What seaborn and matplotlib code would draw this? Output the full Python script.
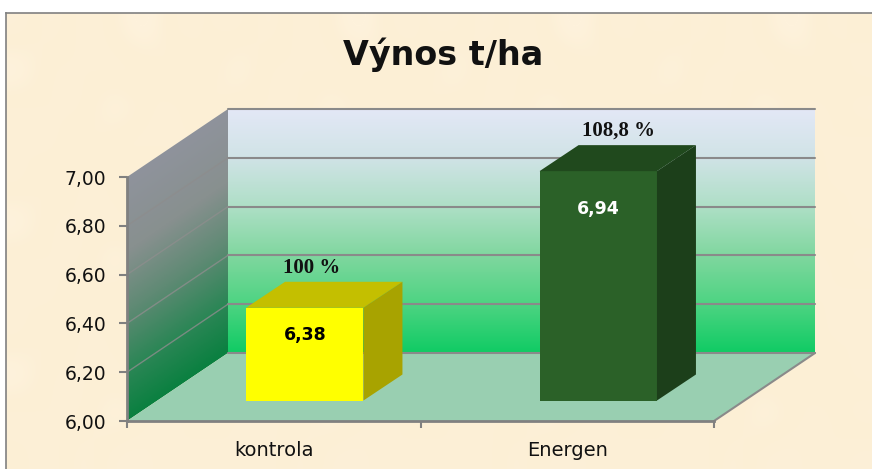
import numpy as np
import pandas as pd
import matplotlib
matplotlib.use("Agg")
import matplotlib.pyplot as plt
from matplotlib.colors import LinearSegmentedColormap
from matplotlib.patches import Polygon
import seaborn as sns

categories = ["kontrola", "Energen"]
yields = [6.38, 6.94]
yield_labels = ["6,38", "6,94"]
pct_labels = ["100 %", "108,8 %"]
bar_colors = ["#ffff00", "#2b6128"]
top_colors = ["#c4bf00", "#20491d"]
side_colors = ["#a8a300", "#1c3f1a"]
value_colors = ["black", "white"]
y_ticks = [6.0, 6.2, 6.4, 6.6, 6.8, 7.0]
y_tick_labels = ["6,00", "6,20", "6,40", "6,60", "6,80", "7,00"]

W, H = 872, 469
# hrube skvrny pozadi
paper = [[0, 2, 0, 1, 3, 0, 1],
         [3, 0, 1, 0, 0, 2, 0],
         [0, 1, 0, 3, 1, 0, 2],
         [1, 0, 2, 0, 0, 1, 0]]
gridgray = "#8a8a8a"

sns.set_theme(style="white")
plt.rcParams["font.family"] = ["DejaVu Sans"]


def px_axes(fig, x0, y_top, x1, y_bottom, **kw):
    # osy zadane v pixelech obrazku
    return fig.add_axes([x0 / W, 1 - y_bottom / H, (x1 - x0) / W, (y_bottom - y_top) / H], **kw)


fig = plt.figure(figsize=(W / 100, H / 100), dpi=100, facecolor="white")

# ramecek a papirove pozadi
bg = px_axes(fig, 6, 13, 872, 469)
paper_cmap = LinearSegmentedColormap.from_list("paper", ["#fdf0d8", "#fcefd5", "#fef2dc", "#fbedd0"])
bg.imshow(np.tile(paper, (3, 4)), cmap=paper_cmap, aspect="auto", interpolation="bicubic")
bg.set_xticks([])
bg.set_yticks([])
for name, sp in bg.spines.items():
    sp.set_visible(name in ("left", "top"))
    sp.set_color("#808080")
    sp.set_linewidth(1.2)

# hlavni osy = predni rovina grafu
ax = px_axes(fig, 127, 177, 714, 421)
ax.patch.set_alpha(0)
xlim = (-0.5, 1.5)
ylim = (6.0, 7.0)
depth_x = 101 / 293.5
depth_y = 68 / 244

left, right = xlim
low, high = ylim

# zadni stena s prechodem
wall_cmap = LinearSegmentedColormap.from_list(
    "wall", [(0, "#e3e8f6"), (0.2, "#d0e3e6"), (0.4, "#aedfc6"), (0.6, "#80d79f"), (0.8, "#4dd482"), (1, "#10cb64")])
im = ax.imshow(np.linspace(0, 1, 256).reshape(-1, 1), cmap=wall_cmap, aspect="auto",
               extent=(left + depth_x, right + depth_x, low + depth_y, high + depth_y), zorder=1)
im.set_clip_on(False)

# leva stena, prechod jde podel zkosene steny
side_cmap = LinearSegmentedColormap.from_list(
    "side", [(0, "#8f939c"), (0.3, "#88908f"), (0.55, "#5f8a74"), (0.8, "#2a8655"), (1, "#0a8040")])
sx = np.linspace(0, 1, 60)
sy = np.linspace(1 + depth_y, 0, 400)
gx, gy = np.meshgrid(sx, sy)
shear = np.clip(1 - (gy - gx * depth_y), 0, 1)
im2 = ax.imshow(shear, cmap=side_cmap, vmin=0, vmax=1, aspect="auto",
                extent=(left, left + depth_x, low, high + depth_y), zorder=1)
im2.set_clip_box(fig.bbox)
im2.set_clip_path(Polygon([(left, low), (left + depth_x, low + depth_y), (left + depth_x, high + depth_y),
                          (left, high)], transform=ax.transData))

# podlaha
ax.add_patch(Polygon([(left, low), (right, low), (right + depth_x, low + depth_y), (left + depth_x, low + depth_y)],
                     fc="#99cfb1", ec="none", zorder=2, clip_on=False))
ax.plot([right, right + depth_x], [low, low + depth_y], color=gridgray, lw=1.5, zorder=3, clip_on=False)

# mrizka na obou stenach
for t in y_ticks:
    ax.plot([left + depth_x, right + depth_x], [t + depth_y] * 2, color=gridgray, lw=1.5, zorder=3, clip_on=False)
    if low < t < high:
        ax.plot([left, left + depth_x], [t, t + depth_y], color="#8d8d8d", lw=1.0, alpha=0.8, zorder=3, clip_on=False)

ax.set_xlim(xlim)
ax.set_ylim(ylim)
ax.set_yticks(y_ticks, y_tick_labels)
ax.set_xticks([-0.5, 0.5, 1.5], ["", "", ""])
ax.tick_params(axis="y", length=6, width=1.5, color="#808080", labelsize=13.5, labelcolor="#111111", pad=9, left=True)
ax.tick_params(axis="x", length=5, width=1.5, color="#808080", bottom=True)
for name, sp in ax.spines.items():
    sp.set_visible(name in ("left", "bottom"))
    sp.set_color("#808080")
    sp.set_linewidth(2)
    sp.set_zorder(6)
for i, name in enumerate(categories):
    ax.text(i, -0.08, name, transform=ax.get_xaxis_transform(), ha="center", va="top", fontsize=14,
            color="#111111", zorder=7, clip_on=False)

# sloupce v rovine posunute do hloubky
offset_x, offset_y = 31, 20.5
ax_bar = px_axes(fig, 127 + offset_x, 177 - offset_y, 714 + offset_x, 421 - offset_y)
ax_bar.patch.set_alpha(0)
df = pd.DataFrame({"variant": categories, "yield": yields})
sns.barplot(data=df, x="variant", y="yield", hue="variant", palette=bar_colors, width=0.4,
            legend=False, saturation=1, linewidth=0, ax=ax_bar, zorder=3)
ax_bar.set_xlim(xlim)
ax_bar.set_ylim(ylim)
ax_bar.axis("off")

bar_dx = 39 / 293.5
bar_dy = 26 / 244
value_drop = [27, 38]
pct_shift = [(6.5, 40), (20, 41)]
for i, bar in enumerate(ax_bar.patches):
    x0 = bar.get_x()
    x1 = x0 + bar.get_width()
    top = bar.get_height()
    ax_bar.add_patch(Polygon([(x0, top), (x1, top), (x1 + bar_dx, top + bar_dy), (x0 + bar_dx, top + bar_dy)],
                             fc=top_colors[i], ec="none", zorder=3, clip_on=False))
    ax_bar.add_patch(Polygon([(x1, low), (x1 + bar_dx, low + bar_dy), (x1 + bar_dx, top + bar_dy), (x1, top)],
                             fc=side_colors[i], ec="none", zorder=3, clip_on=False))
    cx = x0 + bar.get_width() / 2
    ax_bar.annotate(yield_labels[i], (cx, top), xytext=(0, -value_drop[i] * 0.72), textcoords="offset points",
                    ha="center", va="center", fontsize=12.5, fontweight="bold", color=value_colors[i], zorder=5)
    ax_bar.annotate(pct_labels[i], (cx, top), xytext=(pct_shift[i][0] * 0.72, pct_shift[i][1] * 0.72),
                    textcoords="offset points", ha="center", va="center", fontsize=15, fontweight="bold",
                    family="Liberation Serif", color="#111111", zorder=5, annotation_clip=False)

fig.text(443 / W, 1 - 55 / H, "Výnos t/ha", ha="center", va="center", fontsize=24, fontweight="bold", color="#111111")

fig.savefig("out.png", dpi=100)
